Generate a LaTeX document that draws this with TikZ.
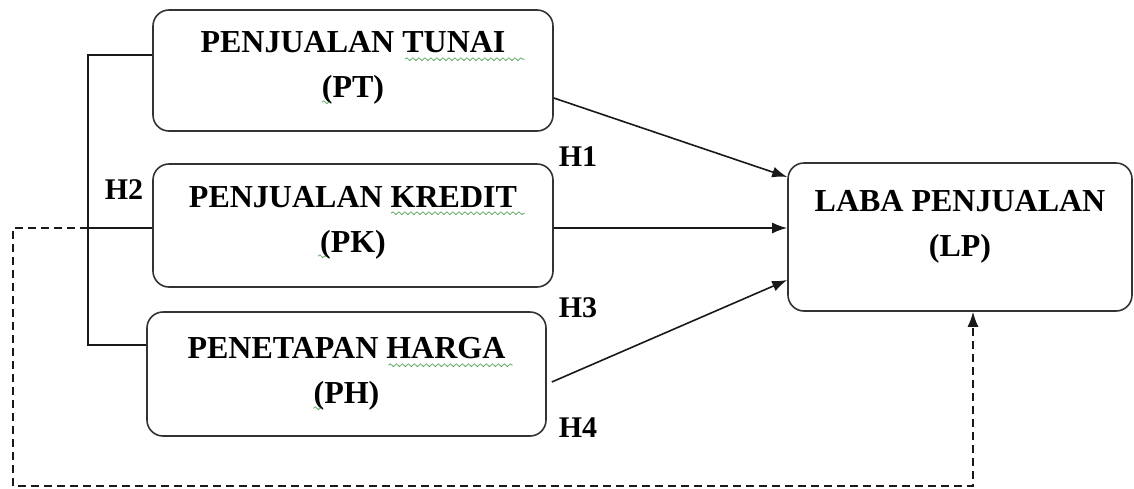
\documentclass[tikz,border=0pt]{standalone}
\usepackage{fontspec}
\setmainfont{Liberation Serif}
\usepackage{tikz}
\usetikzlibrary{arrows.meta, positioning, calc, decorations.pathmorphing}

\definecolor{spellgreen}{RGB}{100,170,100}
\newcommand{\padbelow}[1]{\rule[-#1]{0pt}{#1}}

\begin{document}
\begin{tikzpicture}[
  x=0.5pt, y=-0.5pt,
  >={Latex[length=7.5pt,width=5.5pt]},
  varbox/.style={draw=black!80, line width=0.8pt, rounded corners=8pt, align=center, inner sep=0pt, font=\fontsize{16}{22.5}\selectfont\bfseries},
  hyplabel/.style={font=\fontsize{15}{18}\selectfont\bfseries, inner sep=1pt},
  link/.style={->, line width=0.8pt, black!90},
  bracket/.style={line width=0.8pt, black!90},
  ctrl/.style={->, line width=0.8pt, black!90, dash pattern=on 4pt off 2.5pt},
  spellmark/.style={spellgreen, line width=0.4pt, decorate, decoration={snake, segment length=3pt, amplitude=0.7pt}}
]
\useasboundingbox (0,0) rectangle (1134,488);

% independent variables
\node[varbox, minimum width=200pt, minimum height=60.5pt] (pt) at (353,70.5) {PENJUALAN TUNAI\\(PT)\padbelow{6.4pt}};
\node[varbox, minimum width=200pt, minimum height=61.5pt] (pk) at (353,225.5) {PENJUALAN KREDIT\\(PK)\padbelow{6.4pt}};
\node[varbox, minimum width=199.5pt, minimum height=62pt] (ph) at (346.5,374) {PENETAPAN HARGA\\(PH)};

% dependent variable
\node[varbox, minimum width=172pt, minimum height=74pt] (lp) at (960,237) {LABA PENJUALAN\\(LP)\padbelow{13.9pt}};

% spell-check squiggles
\draw[spellmark] ($(pt.north)+(52,50)$) -- ($(pt.north)+(172,50)$);
\draw[spellmark] ($(pt.north)+(-31,93)$) -- ($(pt.north)+(-23,93)$);
\draw[spellmark] ($(pk.north)+(38,50)$) -- ($(pk.north)+(172,50)$);
\draw[spellmark] ($(pk.north)+(-35,93)$) -- ($(pk.north)+(-27,93)$);
\draw[spellmark] ($(ph.north)+(42,54)$) -- ($(ph.north)+(166,54)$);
\draw[spellmark] ($(ph.north)+(-33,97)$) -- ($(ph.north)+(-25,97)$);

% hypothesis labels
\node[hyplabel] (h1) at (578,157) {H1};
\node[hyplabel] (h2) at (124,190) {H2};
\node[hyplabel] (h3) at (578,308) {H3};
\node[hyplabel] (h4) at (578,428) {H4};

% simultaneous bracket
\coordinate (brtop) at (88,55);
\coordinate (brmid) at (88,228);
\coordinate (brbot) at (88,345);
\draw[bracket] (pt.west |- brtop) -- (brtop) -- (brbot) -- (ph.west |- brbot);
\draw[bracket] (brmid) -- (pk.west |- brmid);

% partial effects
\draw[link] ([yshift=-13.75pt]pt.east) -- ([yshift=30pt]lp.west);
\draw[link] (pk.east |- brmid) -- (lp.west |- brmid);
\draw[link] ([shift={(2.5pt,-4pt)}]ph.east) -- ([yshift=-21.5pt]lp.west);

% joint effect (dashed)
\coordinate (loopA) at (13,228);
\coordinate (loopB) at (973,486);
\draw[ctrl] (brmid) -- (loopA) |- (loopB) -- (lp.south -| loopB);

\end{tikzpicture}
\end{document}
